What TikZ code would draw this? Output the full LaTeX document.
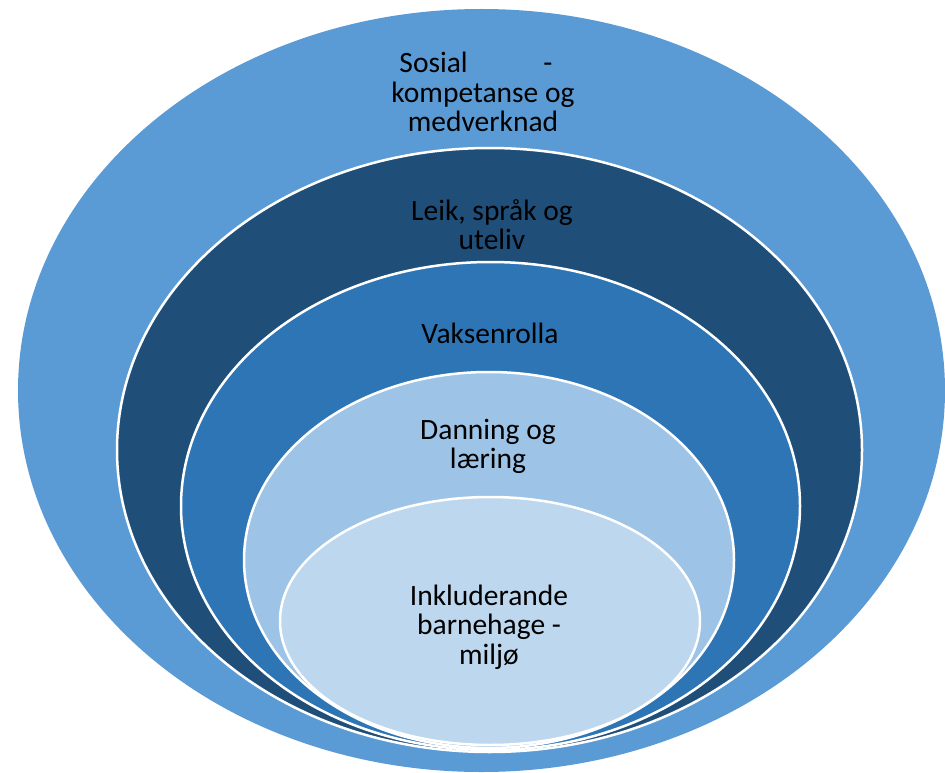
\documentclass[tikz,border=0pt]{standalone}
\usepackage{fontspec}
\setmainfont{Carlito}
\usepackage{calc}
\definecolor{c1}{HTML}{5B9BD5}
\definecolor{c2}{HTML}{1F4E79}
\definecolor{c3}{HTML}{2E75B6}
\definecolor{c4}{HTML}{9DC3E6}
\definecolor{c5}{HTML}{BDD7EE}
\begin{document}
\begin{tikzpicture}[x=1pt,y=-1pt,
  ring/.style={draw=white,line width=2.5pt},
  lbl/.style={align=center,font=\fontsize{29.5}{29.5}\selectfont,text=black,inner sep=0pt}]
\useasboundingbox (0,0) rectangle (945,773);
\fill[c1] (481.5,390.5) ellipse [x radius=463.5,y radius=381.5];
\path[ring,fill=c2] (489.5,450) ellipse [x radius=372.5,y radius=302];
\path[ring,fill=c3] (490.5,506) ellipse [x radius=309.5,y radius=244];
\path[ring,fill=c4] (489,560) ellipse [x radius=245,y radius=188];
\path[ring,fill=c5] (490,621) ellipse [x radius=210,y radius=124];
\node[lbl] (t1) at (483,92) {\makebox[\widthof{kompetanse og}][s]{\hspace{8pt}Sosial\hfill-\hspace{22pt}}\\kompetanse og\\medverknad};
\node[lbl] (t2) at (492,224.5) {Leik, språk og\\uteliv};
\node[lbl] (t3) at (490,333) {Vaksenrolla};
\node[lbl] (t4) at (488,446.5) {Danning og\\læring};
\node[lbl] (t5) at (489,627) {Inkluderande\\barnehage -\\miljø};
\end{tikzpicture}
\end{document}
